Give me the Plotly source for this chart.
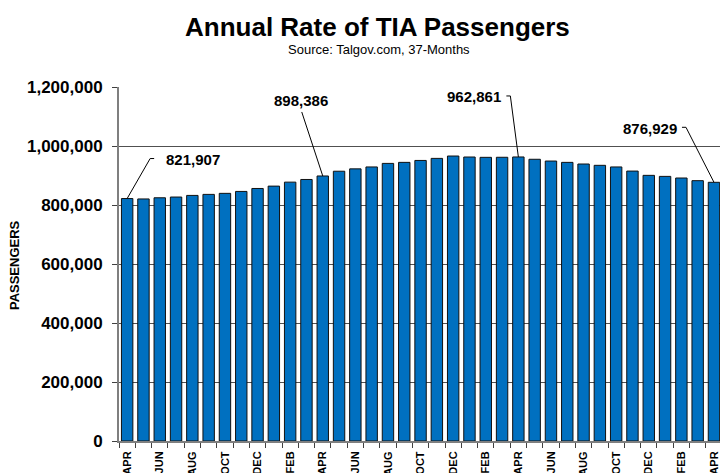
import plotly.graph_objects as go

months = ["APR", "MAY", "JUN", "JUL", "AUG", "SEP", "OCT", "NOV", "DEC", "JAN", "FEB", "MAR"] * 3 + ["APR"]
passengers = [
    821907, 820500, 824500, 827000, 832500, 836000, 839500, 846000, 856000, 864000,
    877500, 886500, 898386, 914500, 922500, 929000, 941000, 944500, 951000, 958000,
    966000, 962700, 961600, 961800, 962861, 955000, 949000, 944500, 939000, 934500,
    929000, 915000, 900500, 897000, 891500, 882500, 876929,
]
labelled = [0, 12, 24, 36]
y_ticks = [0, 200000, 400000, 600000, 800000, 1000000, 1200000]

FONT = "Arial, Liberation Sans, sans-serif"
AXIS = "#7f7f7f"
TICK = "#404040"
GRID = "#505050"

x_idx = list(range(len(passengers)))

fig = go.Figure()
fig.add_trace(go.Bar(
    x=x_idx, y=passengers, width=0.7,
    marker=dict(color="#0070C0", line=dict(color="#111111", width=1)),
    hoverinfo="skip",
))

# label geometry: bend offset (px), stub length (px), text shift (px), text anchor
label_style = {
    0: dict(bend=(23, 40), stub=4, tx=37, ty=39, anchor="left"),
    12: dict(bend=(-21, 64), stub=0, tx=-22, ty=75, anchor="center"),
    24: dict(bend=(-8, 61), stub=-4, tx=-15, ty=60, anchor="right"),
    36: dict(bend=(-28, 55), stub=-4, tx=-35, ty=54, anchor="right"),
}

shapes = []
annotations = []
for i in labelled:
    st = label_style[i]
    v = passengers[i]
    bx, by = st["bend"]
    shapes.append(dict(type="line", xref="x", yref="y", xsizemode="pixel", ysizemode="pixel",
                       xanchor=i, yanchor=v, x0=0, y0=0, x1=bx, y1=by,
                       line=dict(color="black", width=1)))
    if st["stub"]:
        shapes.append(dict(type="line", xref="x", yref="y", xsizemode="pixel", ysizemode="pixel",
                           xanchor=i, yanchor=v, x0=bx, y0=by, x1=bx + st["stub"], y1=by,
                           line=dict(color="black", width=1)))
    annotations.append(dict(x=i, y=v, xref="x", yref="y", text=f"<b>{v:,}</b>",
                            showarrow=False, xshift=st["tx"], yshift=st["ty"],
                            xanchor=st["anchor"], yanchor="middle",
                            font=dict(family=FONT, size=15, color="black")))

annotations += [
    dict(text="<b>Annual Rate of TIA Passengers</b>", xref="paper", yref="paper",
         x=0.430, y=1.170, xanchor="center", yanchor="middle", showarrow=False,
         font=dict(family=FONT, size=26, color="black")),
    dict(text="Source: Talgov.com, 37-Months", xref="paper", yref="paper",
         x=0.4326, y=1.107, xanchor="center", yanchor="middle", showarrow=False,
         font=dict(family=FONT, size=13, color="black")),
    dict(text="<b>PASSENGERS</b>", xref="paper", yref="paper", textangle=-90,
         x=-0.1747, y=0.497, xanchor="center", yanchor="middle", showarrow=False,
         font=dict(family=FONT, size=13, color="black")),
]

fig.update_layout(
    width=720, height=473,
    margin=dict(l=119, r=0, t=87, b=32, pad=0, autoexpand=False),
    paper_bgcolor="white", plot_bgcolor="white",
    showlegend=False,
    shapes=shapes, annotations=annotations,
    font=dict(family=FONT, color="black"),
)

fig.update_xaxes(
    range=[-0.5, 36.37], automargin=False,
    tickmode="array", tickvals=x_idx[::2], ticktext=[f"<b>{m}</b>" for m in months[::2]],
    tickangle=-90, tickfont=dict(family=FONT, size=11, color="black"),
    ticks="", ticklabelstandoff=4,
    minor=dict(tickmode="array", tickvals=[i - 0.5 for i in range(len(passengers) + 1)],
               ticks="outside", ticklen=5, tickcolor=TICK, tickwidth=1, showgrid=False),
    showline=True, linecolor=AXIS, linewidth=2,
    showgrid=False, zeroline=False,
)

fig.update_yaxes(
    range=[0, 1200000], automargin=False,
    tickmode="array", tickvals=y_ticks, ticktext=[f"<b>{t:,}</b>" for t in y_ticks],
    tickfont=dict(family=FONT, size=17, color="black"),
    ticks="outside", ticklen=5, tickcolor=TICK, tickwidth=1, ticklabelstandoff=6,
    showline=True, linecolor=AXIS, linewidth=2,
    showgrid=True, gridcolor=GRID, gridwidth=1, zeroline=False,
)

fig.write_html(
    "out.html",
    config={"displayModeBar": False, "staticPlot": True},
    post_script="document.body.style.margin='0';document.body.style.overflow='hidden';",
)
